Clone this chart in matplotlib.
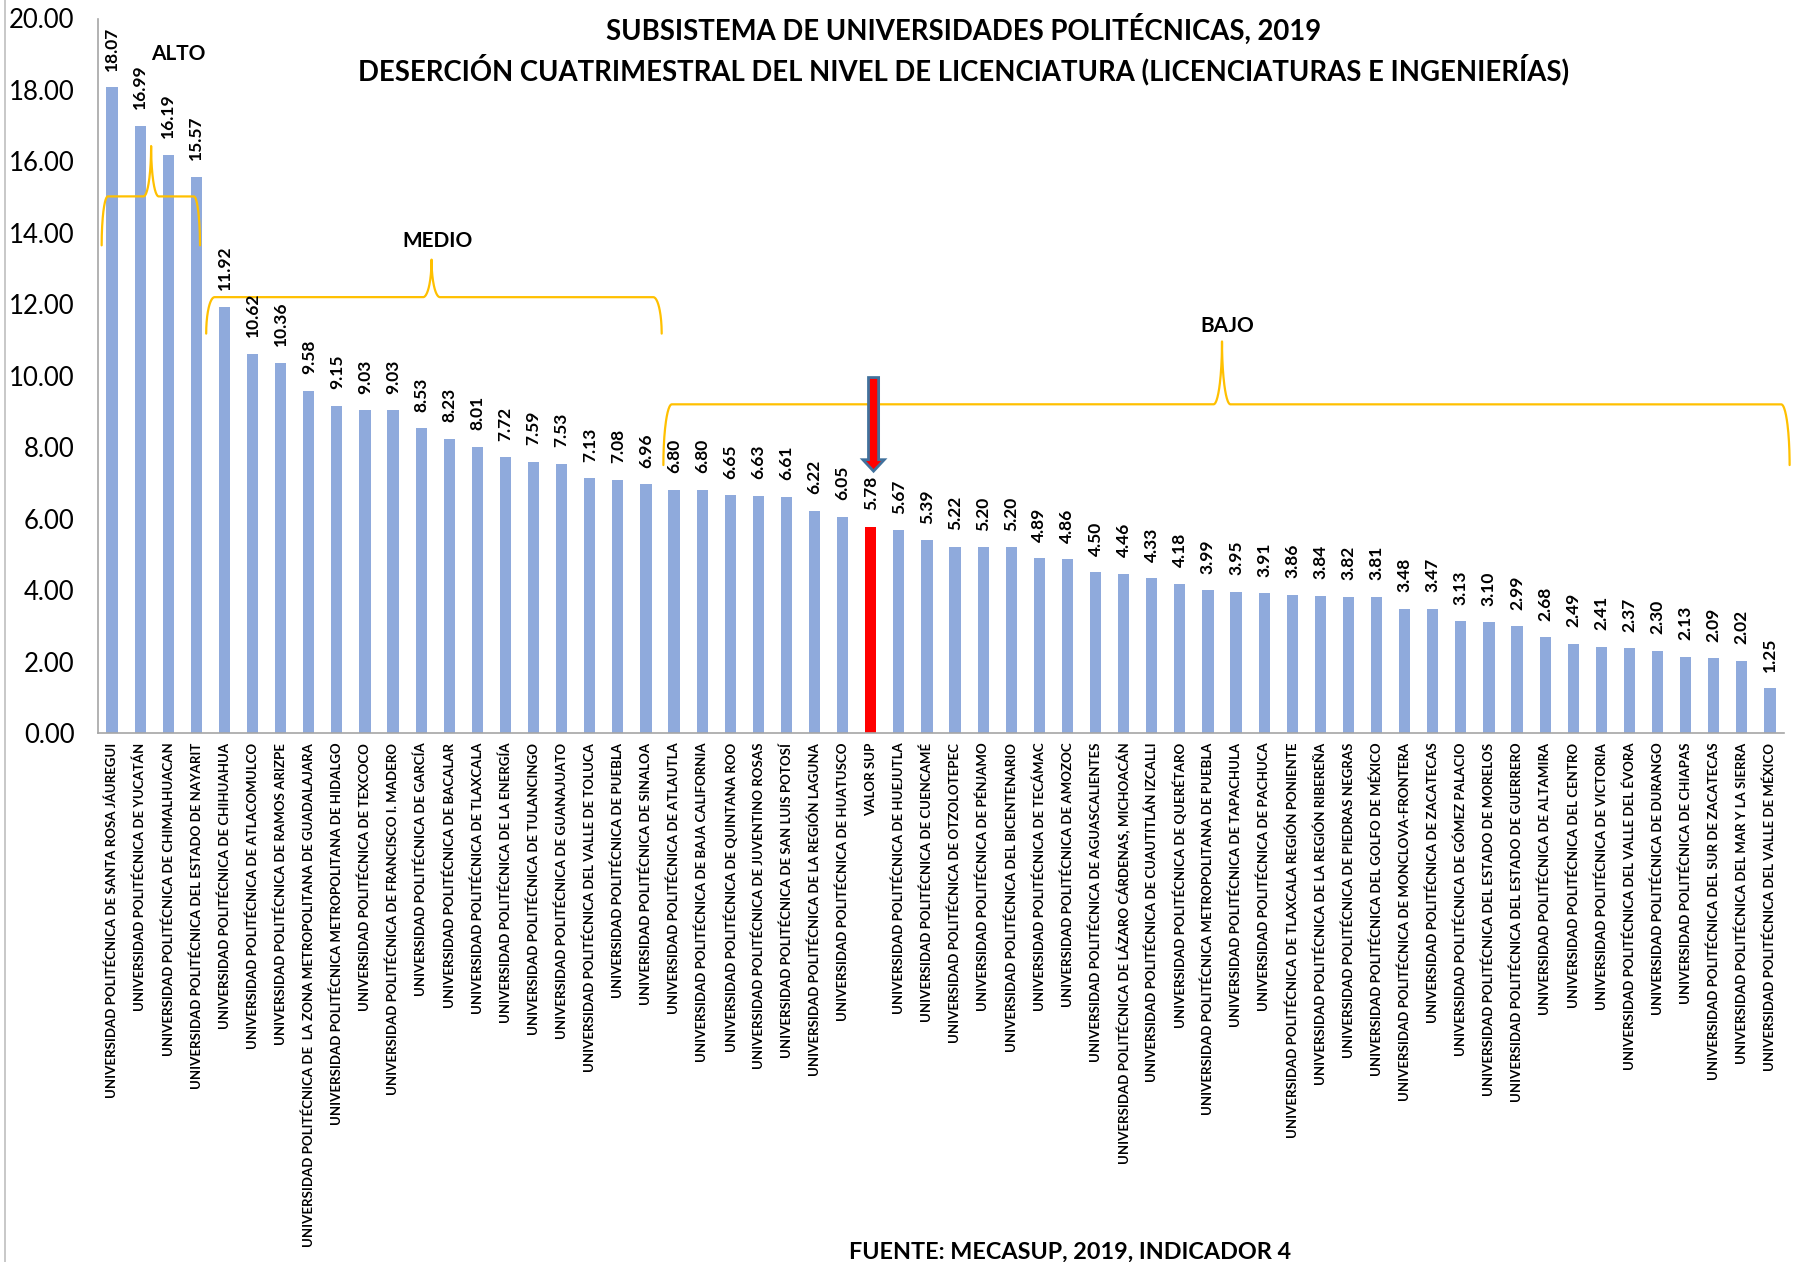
import numpy as np
import matplotlib
matplotlib.use("Agg")
import matplotlib.pyplot as plt
from matplotlib.lines import Line2D
from matplotlib.patches import FancyArrow
from matplotlib.ticker import StrMethodFormatter

plt.rcParams["font.family"] = ["Lato", "DejaVu Sans"]

UP = "UNIVERSIDAD POLITÉCNICA "

universidades = [
    UP + "DE SANTA ROSA JÁUREGUI",
    UP + "DE YUCATÁN",
    UP + "DE CHIMALHUACAN",
    UP + "DEL ESTADO DE NAYARIT",
    UP + "DE CHIHUAHUA",
    UP + "DE ATLACOMULCO",
    UP + "DE RAMOS ARIZPE",
    UP + "DE  LA ZONA METROPOLITANA DE GUADALAJARA",
    UP + "METROPOLITANA DE HIDALGO",
    UP + "DE TEXCOCO",
    UP + "DE FRANCISCO I. MADERO",
    UP + "DE GARCÍA",
    UP + "DE BACALAR",
    UP + "DE TLAXCALA",
    UP + "DE LA ENERGÍA",
    UP + "DE TULANCINGO",
    UP + "DE GUANAJUATO",
    UP + "DEL VALLE DE TOLUCA",
    UP + "DE PUEBLA",
    UP + "DE SINALOA",
    UP + "DE ATLAUTLA",
    UP + "DE BAJA CALIFORNIA",
    UP + "DE QUINTANA ROO",
    UP + "DE JUVENTINO ROSAS",
    UP + "DE SAN LUIS POTOSÍ",
    UP + "DE LA REGIÓN LAGUNA",
    UP + "DE HUATUSCO",
    "VALOR SUP",
    UP + "DE HUEJUTLA",
    UP + "DE CUENCAMÉ",
    UP + "DE OTZOLOTEPEC",
    UP + "DE PÉNJAMO",
    UP + "DEL BICENTENARIO",
    UP + "DE TECÁMAC",
    UP + "DE AMOZOC",
    UP + "DE AGUASCALIENTES",
    UP + "DE LÁZARO CÁRDENAS, MICHOACÁN",
    UP + "DE CUAUTITLÁN IZCALLI",
    UP + "DE QUERÉTARO",
    UP + "METROPOLITANA DE PUEBLA",
    UP + "DE TAPACHULA",
    UP + "DE PACHUCA",
    UP + "DE TLAXCALA REGIÓN PONIENTE",
    UP + "DE LA REGIÓN RIBEREÑA",
    UP + "DE PIEDRAS NEGRAS",
    UP + "DEL GOLFO DE MÉXICO",
    UP + "DE MONCLOVA-FRONTERA",
    UP + "DE ZACATECAS",
    UP + "DE GÓMEZ PALACIO",
    UP + "DEL ESTADO DE MORELOS",
    UP + "DEL ESTADO DE GUERRERO",
    UP + "DE ALTAMIRA",
    UP + "DEL CENTRO",
    UP + "DE VICTORIA",
    UP + "DEL VALLE DEL ÉVORA",
    UP + "DE DURANGO",
    UP + "DE CHIAPAS",
    UP + "DEL SUR DE ZACATECAS",
    UP + "DEL MAR Y LA SIERRA",
    UP + "DEL VALLE DE MÉXICO",
]

desercion = [
    18.07, 16.99, 16.19, 15.57, 11.92, 10.62, 10.36, 9.58, 9.15, 9.03,
    9.03, 8.53, 8.23, 8.01, 7.72, 7.59, 7.53, 7.13, 7.08, 6.96,
    6.80, 6.80, 6.65, 6.63, 6.61, 6.22, 6.05, 5.78, 5.67, 5.39,
    5.22, 5.20, 5.20, 4.89, 4.86, 4.50, 4.46, 4.33, 4.18, 3.99,
    3.95, 3.91, 3.86, 3.84, 3.82, 3.81, 3.48, 3.47, 3.13, 3.10,
    2.99, 2.68, 2.49, 2.41, 2.37, 2.30, 2.13, 2.09, 2.02, 1.25,
]

y_ticks = [0, 2, 4, 6, 8, 10, 12, 14, 16, 18, 20]

BAR_COLOR = "#8FAADC"
HIGHLIGHT_COLOR = "#FF0000"
BRACE_COLOR = "#FFC000"
AXIS_COLOR = "#A6A6A6"


def draw_brace(ax, x0, x1, xm, y_base, y_end, y_peak, rx=0.25, cx=0.27):
    """Llave horizontal estilo Excel con punta hacia arriba."""
    t = np.linspace(0, np.pi / 2, 40)
    lx = x0 + rx * (1 - np.cos(t))
    ly = y_end + (y_base - y_end) * np.sin(t)
    ux = xm - cx + cx * np.sin(t)
    uy = y_peak - (y_peak - y_base) * np.cos(t)
    dx = (2 * xm - ux)[::-1]
    dy = uy[::-1]
    rxs = (x1 - rx * (1 - np.cos(t)))[::-1]
    rys = ly[::-1]
    xs = np.concatenate([lx, ux, dx, rxs])
    ys = np.concatenate([ly, uy, dy, rys])
    ax.plot(xs, ys, color=BRACE_COLOR, linewidth=1.6, clip_on=False,
            solid_capstyle="round")


fig = plt.figure(figsize=(17.94, 12.62), dpi=100)
ax = fig.add_axes([98 / 1794, 1 - 733 / 1262, 1686 / 1794, 714.5 / 1262])

x = np.arange(len(universidades))
idx_sup = universidades.index("VALOR SUP")
colors = [HIGHLIGHT_COLOR if i == idx_sup else BAR_COLOR for i in x]
ax.bar(x, desercion, width=0.4, color=colors, zorder=2)

for i, v in zip(x, desercion):
    ax.annotate(f"{v:.2f}", (i, v), xytext=(0, 12), textcoords="offset points",
                rotation=90, ha="center", va="bottom", fontsize=12.5,
                fontweight="bold", color="black")

ax.set_xlim(-0.5, len(universidades) - 0.5)
ax.set_ylim(0, 20)
ax.set_yticks(y_ticks)
ax.yaxis.set_major_formatter(StrMethodFormatter("{x:.2f}"))
ax.set_xticks(x)
ax.set_xticklabels(universidades, rotation=90, fontsize=9.5, fontweight="bold")
ax.tick_params(axis="x", length=0, pad=7)
ax.tick_params(axis="y", length=0, pad=17, labelsize=18.5)

for side in ["top", "right"]:
    ax.spines[side].set_visible(False)
for side in ["left", "bottom"]:
    ax.spines[side].set_color(AXIS_COLOR)
    ax.spines[side].set_linewidth(1.2)

# llaves de nivel
draw_brace(ax, -0.37, 3.13, 1.39, 15.02, 13.65, 16.43, rx=0.22, cx=0.27)
draw_brace(ax, 3.35, 19.56, 11.37, 12.2, 11.18, 13.25, rx=0.3, cx=0.3)
draw_brace(ax, 19.62, 59.7, 39.5, 9.2, 7.5, 10.96, rx=0.3, cx=0.3)

ax.text(2.35, 19.0, "ALTO", ha="center", va="center", fontsize=15,
        fontweight="bold")
ax.text(11.58, 13.77, "MEDIO", ha="center", va="center", fontsize=15,
        fontweight="bold")
ax.text(39.7, 11.4, "BAJO", ha="center", va="center", fontsize=15,
        fontweight="bold")

# flecha sobre el valor del subsistema
arrow = FancyArrow(idx_sup + 0.1, 9.95, 0, -(9.95 - 7.33), width=0.36,
                   head_width=0.76, head_length=0.32, length_includes_head=True,
                   facecolor=HIGHLIGHT_COLOR, edgecolor="#41719C", linewidth=2,
                   zorder=5, clip_on=False)
ax.add_patch(arrow)

fig.text(964 / 1794, 1 - 29 / 1262, "SUBSISTEMA DE UNIVERSIDADES POLITÉCNICAS, 2019",
         ha="center", va="center", fontsize=19.8, fontweight="bold")
fig.text(964 / 1794, 1 - 70 / 1262,
         "DESERCIÓN CUATRIMESTRAL DEL NIVEL DE LICENCIATURA (LICENCIATURAS E INGENIERÍAS)",
         ha="center", va="center", fontsize=19.8, fontweight="bold")
fig.text(1070 / 1794, 1 - 1259 / 1262, "FUENTE: MECASUP, 2019, INDICADOR 4",
         ha="center", va="baseline", fontsize=16.8, fontweight="bold")

fig.add_artist(Line2D([5 / 1794, 5 / 1794], [0, 1], color="#BFBFBF",
                      linewidth=1.2))

fig.savefig("out.png", dpi=100)
plt.close(fig)
